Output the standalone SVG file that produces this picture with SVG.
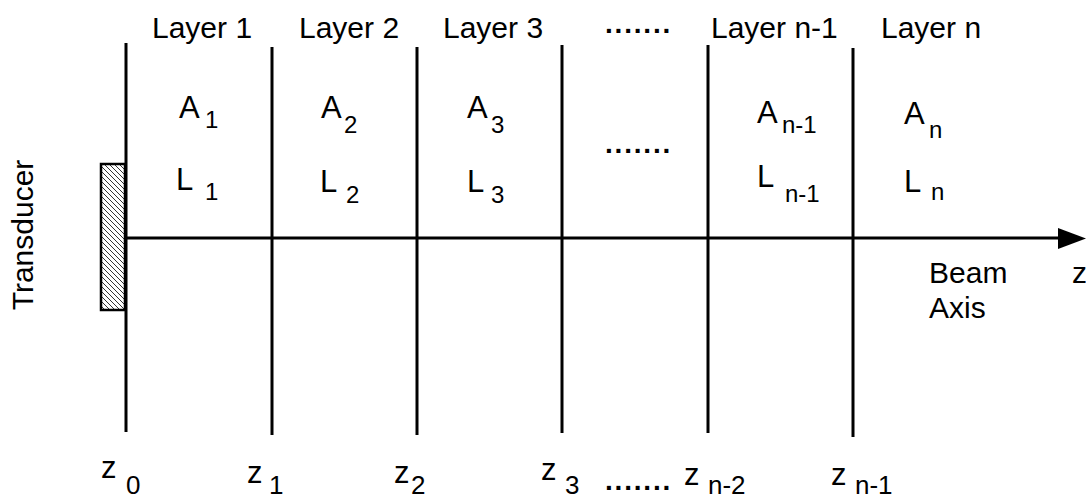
<svg xmlns="http://www.w3.org/2000/svg" width="1086" height="499" viewBox="0 0 1086 499">
  <style>
    text { font-family: "Liberation Sans", Arial, sans-serif; fill: #000; }
    .lbl { font-size: 30px; }
    .big { font-size: 31px; }
    .sub { font-size: 24px; }
    .bsub { font-size: 26px; }
    .dots { font-size: 28px; letter-spacing: 1.8px; font-weight: bold; }
    .bnd { stroke: #000; stroke-width: 3; fill: none; }
  </style>
  <defs>
    <pattern id="hatch" patternUnits="userSpaceOnUse" width="5" height="5">
      <rect width="5" height="5" fill="#fff"/>
      <path d="M-1,-1 L6,6 M-1,4 L1,6 M4,-1 L6,1" stroke="#000" stroke-width="0.8"/>
    </pattern>
  </defs>
  <rect width="1086" height="499" fill="#fff"/>

  <g id="transducer">
    <rect x="101" y="164" width="24" height="146" fill="url(#hatch)" stroke="#000" stroke-width="2.5"/>
    <text class="lbl" transform="translate(33,235) rotate(-90)" text-anchor="middle">Transducer</text>
  </g>

  <g id="boundaries">
    <line class="bnd" x1="126" y1="43" x2="126" y2="432"/>
    <line class="bnd" x1="272" y1="47" x2="272" y2="435"/>
    <line class="bnd" x1="417" y1="47" x2="417" y2="435"/>
    <line class="bnd" x1="562" y1="45" x2="562" y2="433"/>
    <line class="bnd" x1="708" y1="45" x2="708" y2="433"/>
    <line class="bnd" x1="853" y1="48" x2="853" y2="437"/>
  </g>

  <g id="connectors">
    <line class="bnd" x1="126" y1="238" x2="1062" y2="238"/>
    <polygon points="1058,228 1086,238.5 1058,249" fill="#000"/>
  </g>

  <g id="layer1">
    <text class="lbl" x="152" y="38">Layer 1</text>
    <text class="big" x="179" y="118">A</text><text class="sub" x="205" y="128">1</text>
    <text class="big" x="176" y="190">L</text><text class="sub" x="205" y="200">1</text>
  </g>
  <g id="layer2">
    <text class="lbl" x="299" y="38">Layer 2</text>
    <text class="big" x="321" y="118">A</text><text class="sub" x="344" y="133">2</text>
    <text class="big" x="320" y="192">L</text><text class="sub" x="346" y="203">2</text>
  </g>
  <g id="layer3">
    <text class="lbl" x="443" y="38">Layer 3</text>
    <text class="big" x="467" y="118">A</text><text class="sub" x="491" y="133">3</text>
    <text class="big" x="467" y="192">L</text><text class="sub" x="491" y="203">3</text>
  </g>
  <g id="ellipsis">
    <text class="dots" x="605" y="33">.......</text>
    <text class="dots" x="605" y="153">.......</text>
  </g>
  <g id="layer-n-1">
    <text class="lbl" x="711" y="38">Layer n-1</text>
    <text class="big" x="757" y="123">A</text><text class="sub" x="782" y="133">n-1</text>
    <text class="big" x="757" y="187">L</text><text class="sub" x="785" y="202">n-1</text>
  </g>
  <g id="layer-n">
    <text class="lbl" x="881" y="38">Layer n</text>
    <text class="big" x="904" y="124">A</text><text class="sub" x="929" y="138">n</text>
    <text class="big" x="904" y="192">L</text><text class="sub" x="931" y="200">n</text>
  </g>

  <g id="axis-label">
    <text class="lbl" x="929" y="283">Beam</text>
    <text class="lbl" x="929" y="318">Axis</text>
    <text class="lbl" x="1072" y="283">z</text>
  </g>

  <g id="positions">
    <text class="big" x="101" y="478">z</text><text class="bsub" x="126" y="494">0</text>
    <text class="big" x="247" y="483">z</text><text class="bsub" x="269" y="494">1</text>
    <text class="big" x="394" y="483">z</text><text class="bsub" x="411" y="494">2</text>
    <text class="big" x="541" y="480">z</text><text class="bsub" x="565" y="494">3</text>
    <text class="dots" x="605" y="490">.......</text>
    <text class="big" x="684" y="485">z</text><text class="bsub" x="708" y="494">n-2</text>
    <text class="big" x="831" y="485">z</text><text class="bsub" x="855" y="494">n-1</text>
  </g>
</svg>
